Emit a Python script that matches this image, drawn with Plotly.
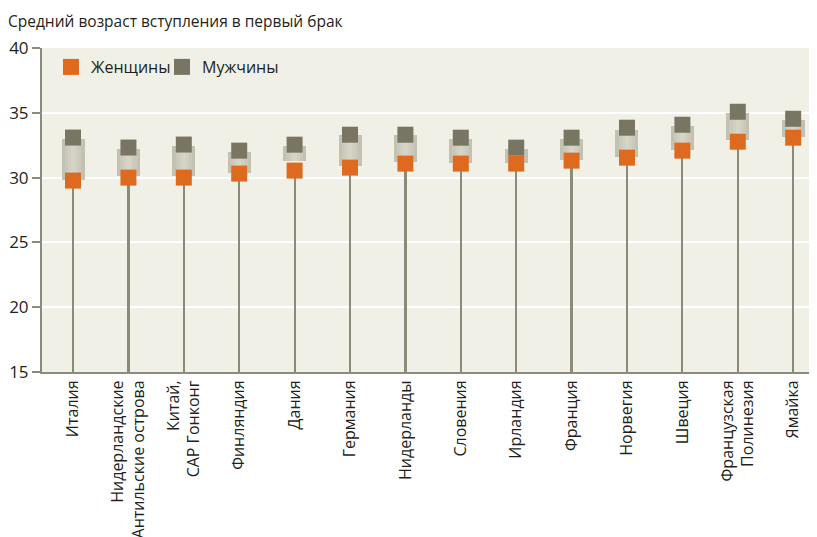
import plotly.graph_objects as go

countries = ["Италия", "Нидерландские<br>Антильские острова", "Китай,<br>САР Гонконг",
             "Финляндия", "Дания", "Германия", "Нидерланды", "Словения", "Ирландия",
             "Франция", "Норвегия", "Швеция", "Французская<br>Полинезия", "Ямайка"]
women = [29.77, 30.0, 30.0, 30.31, 30.54, 30.77, 31.08, 31.08, 31.08, 31.31, 31.54, 32.08, 32.77, 33.08]
men = [33.09, 32.32, 32.55, 32.08, 32.54, 33.31, 33.31, 33.08, 32.31, 33.08, 33.85, 34.08, 35.08, 34.54]
box_low = [29.85, 30.15, 30.15, 30.38, 31.31, 30.87, 31.18, 31.15, 31.15, 31.38, 31.62, 32.15, 32.92, 33.15]
box_high = [33.0, 32.23, 32.46, 32.0, 32.46, 33.26, 33.26, 33.0, 32.23, 33.0, 33.69, 34.0, 35.0, 34.46]
y_ticks = [15, 20, 25, 30, 35, 40]
axis_min = 15

idx = list(range(len(countries)))
fig = go.Figure()

# gradient-like range boxes (layered)
for w, c in [(0.415, "#c2c1b2"), (0.3, "#cac9bb"), (0.18, "#d0cfc1"), (0.08, "#d5d4c7")]:
    fig.add_trace(go.Bar(x=idx, y=[h - l for h, l in zip(box_high, box_low)], base=box_low,
                         width=w, marker=dict(color=c, line=dict(width=0)),
                         showlegend=False, hoverinfo="skip"))

# stems
fig.add_trace(go.Bar(x=idx, y=[v - axis_min for v in women], base=axis_min, width=0.04,
                     marker=dict(color="#8b8b79", line=dict(width=0)),
                     showlegend=False, hoverinfo="skip"))

fig.add_trace(go.Scatter(x=idx, y=men, mode="markers", name="Мужчины", legend="legend2",
                         marker=dict(symbol="square", size=16, color="#787663", line=dict(width=0))))
fig.add_trace(go.Scatter(x=idx, y=women, mode="markers", name="Женщины", legend="legend",
                         marker=dict(symbol="square", size=16, color="#dd6a1e", line=dict(width=0))))

leg_common = dict(orientation="h", y=1 - 2 / 324, xanchor="left", yanchor="top",
                  bgcolor="rgba(0,0,0,0)", font=dict(size=16), itemwidth=30)

fig.update_layout(
    width=809, height=529,
    margin=dict(l=34, r=0, t=40, b=165),
    paper_bgcolor="white", plot_bgcolor="#f0f0e6",
    barmode="overlay", bargap=0,
    font=dict(family="Open Sans", size=16, color="#231f20"),
    title=dict(text="Средний возраст вступления в первый брак", x=0.0, xanchor="left",
               y=1 - 14 / 529, yanchor="middle", font=dict(size=15.5, color="#231f20")),
    showlegend=True,
    legend=dict(x=9 / 775, **leg_common),
    legend2=dict(x=120 / 775, **leg_common),
    xaxis=dict(range=[-0.56, 13.43], tickmode="array", tickvals=idx, ticktext=countries,
               tickangle=-90, showgrid=False, zeroline=False, showline=True,
               linecolor="#8b8b79", linewidth=2, ticks="", tickfont=dict(size=16)),
    yaxis=dict(range=[15, 40], tickvals=y_ticks, showgrid=True, gridcolor="white", gridwidth=2,
               zeroline=False, showline=True, linecolor="#8b8b79", linewidth=2,
               ticks="outside", ticklen=8, tickcolor="#8b8b79", tickwidth=2,
               tickfont=dict(size=17)),
)
fig.write_html("out.html")
